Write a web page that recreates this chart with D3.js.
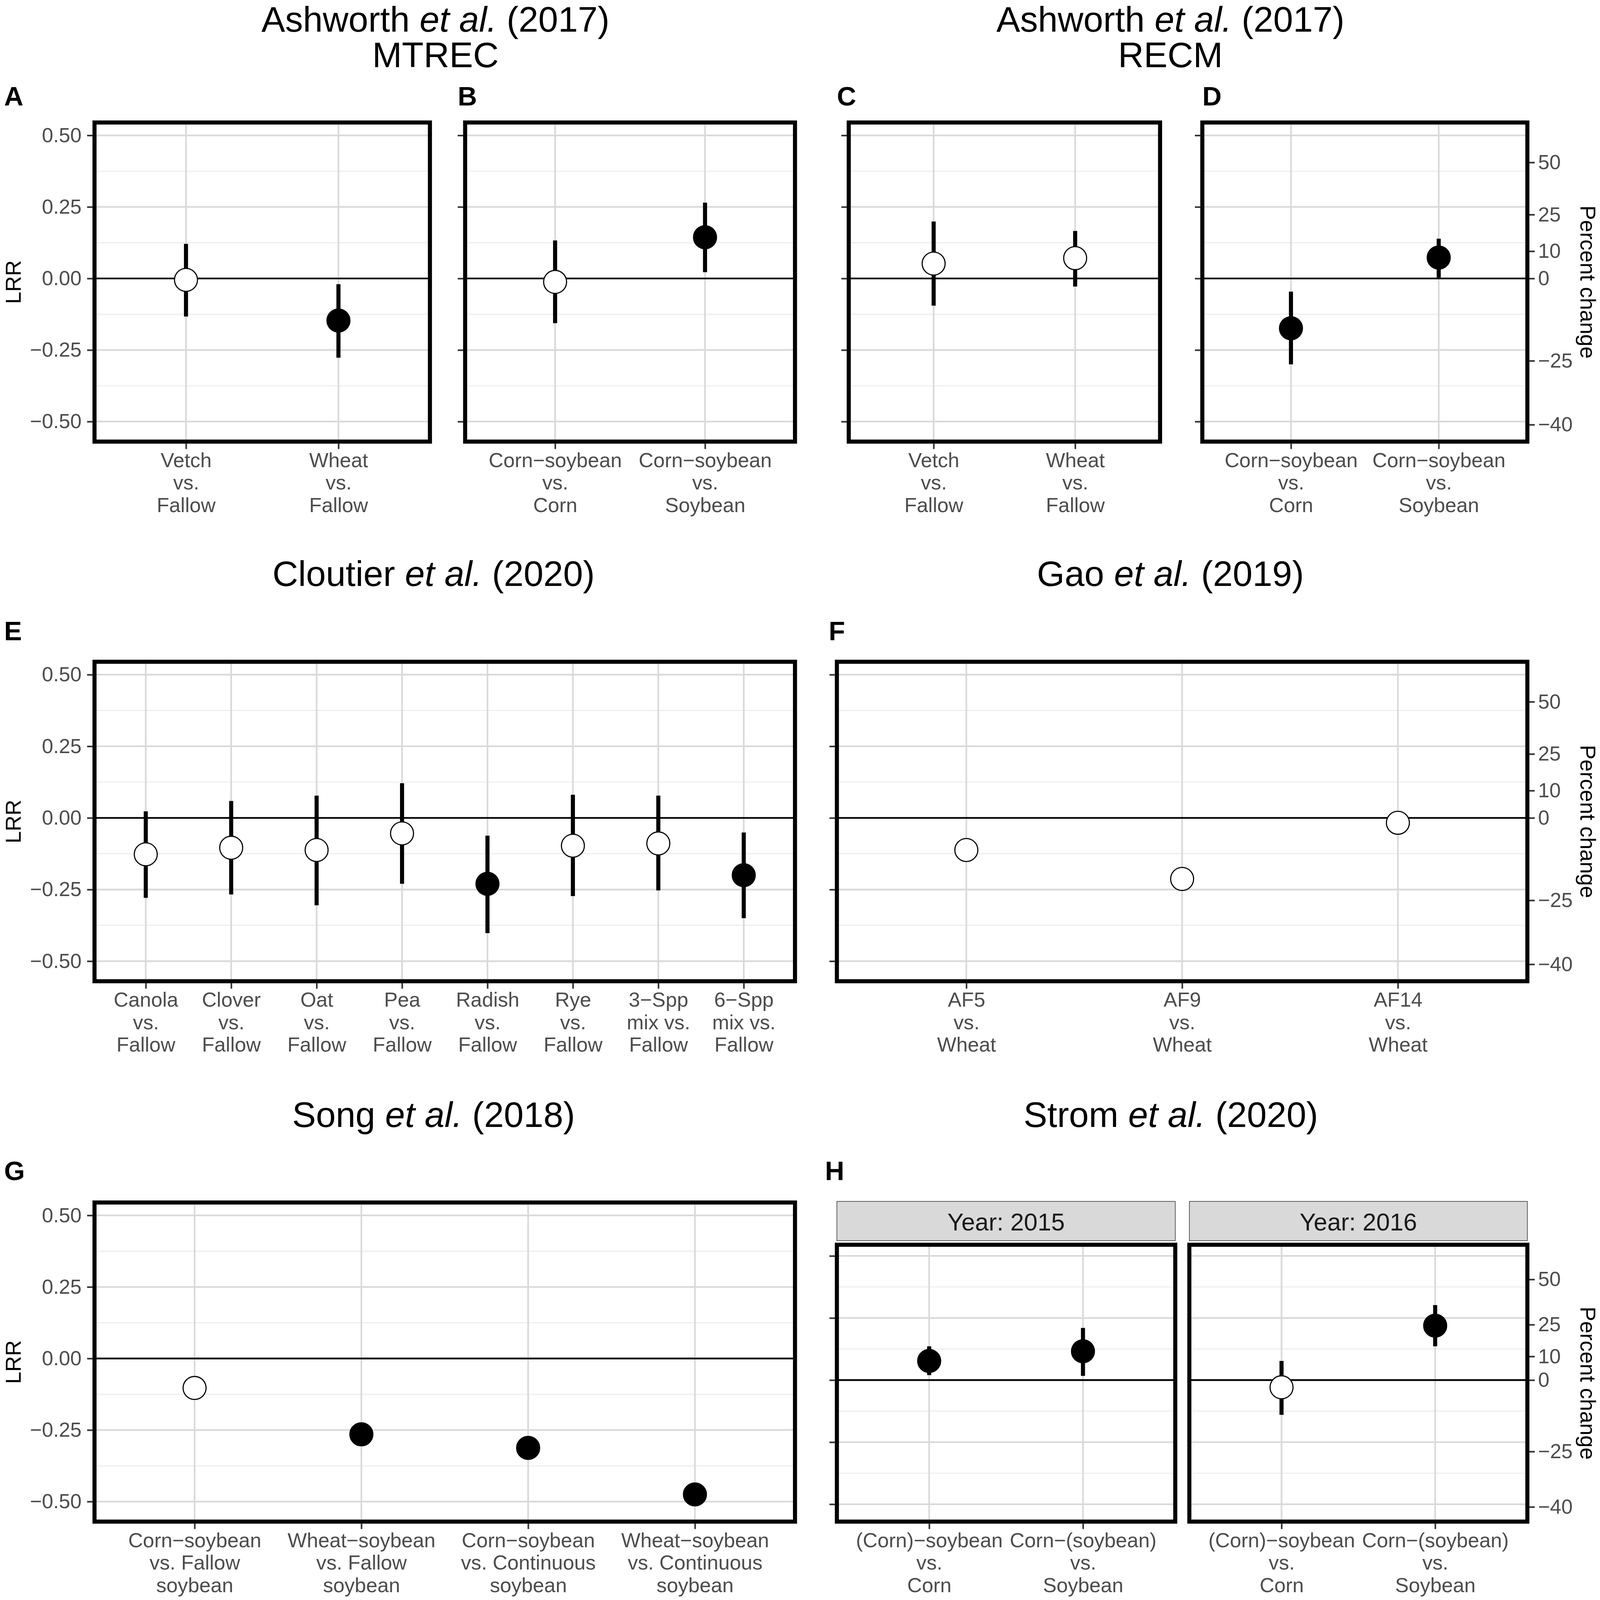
<!DOCTYPE html>
<html>
<head>
<meta charset="utf-8">
<script src="https://cdn.jsdelivr.net/npm/d3@7"></script>
<style>
  html, body { margin: 0; padding: 0; background: #fff; overflow: hidden; }
  #fig { display: block; width: 100vw; height: 100vh; }
  text { font-family: "Liberation Sans", Arial, sans-serif; }
</style>
</head>
<body>
<svg id="fig" viewBox="0 0 4317 4306" preserveAspectRatio="xMidYMid meet"></svg>
<script>
// values (LRR = log response ratio)
var catsA = ["Vetch\nvs.\nFallow", "Wheat\nvs.\nFallow"];
var estA = [-0.005, -0.147], loA = [-0.133, -0.277], hiA = [0.121, -0.020];
var sigA = [false, true];

var catsB = ["Corn\u2212soybean\nvs.\nCorn", "Corn\u2212soybean\nvs.\nSoybean"];
var estB = [-0.012, 0.144], loB = [-0.156, 0.022], hiB = [0.133, 0.265];
var sigB = [false, true];

var catsC = ["Vetch\nvs.\nFallow", "Wheat\nvs.\nFallow"];
var estC = [0.052, 0.071], loC = [-0.095, -0.028], hiC = [0.199, 0.166];
var sigC = [false, false];

var catsD = ["Corn\u2212soybean\nvs.\nCorn", "Corn\u2212soybean\nvs.\nSoybean"];
var estD = [-0.174, 0.073], loD = [-0.300, 0.003], hiD = [-0.046, 0.139];
var sigD = [true, true];

var catsE = ["Canola\nvs.\nFallow", "Clover\nvs.\nFallow", "Oat\nvs.\nFallow", "Pea\nvs.\nFallow",
             "Radish\nvs.\nFallow", "Rye\nvs.\nFallow", "3\u2212Spp\nmix vs.\nFallow", "6\u2212Spp\nmix vs.\nFallow"];
var estE = [-0.127, -0.104, -0.112, -0.054, -0.230, -0.097, -0.089, -0.200];
var loE = [-0.279, -0.267, -0.305, -0.230, -0.402, -0.273, -0.253, -0.350];
var hiE = [0.023, 0.059, 0.078, 0.121, -0.062, 0.081, 0.078, -0.051];
var sigE = [false, false, false, false, true, false, false, true];

var catsF = ["AF5\nvs.\nWheat", "AF9\nvs.\nWheat", "AF14\nvs.\nWheat"];
var estF = [-0.112, -0.213, -0.017];
var sigF = [false, false, false];

var catsG = ["Corn\u2212soybean\nvs. Fallow\nsoybean", "Wheat\u2212soybean\nvs. Fallow\nsoybean",
             "Corn\u2212soybean\nvs. Continuous\nsoybean", "Wheat\u2212soybean\nvs. Continuous\nsoybean"];
var estG = [-0.103, -0.265, -0.3125, -0.475];
var sigG = [false, true, true, true];

var catsH = ["(Corn)\u2212soybean\nvs.\nCorn", "Corn\u2212(soybean)\nvs.\nSoybean"];
var estH2015 = [0.077, 0.116], loH2015 = [0.020, 0.017], hiH2015 = [0.136, 0.210];
var sigH2015 = [true, true];
var estH2016 = [-0.029, 0.219], loH2016 = [-0.140, 0.136], hiH2016 = [0.077, 0.302];
var sigH2016 = [false, true];

var lrrTicks = [-0.5, -0.25, 0, 0.25, 0.5];
var lrrMinor = [-0.375, -0.125, 0.125, 0.375];
var pctTicks = [50, 25, 10, 0, -25, -40];
var lrrDomain = [-0.57, 0.545];

var svg = d3.select("#fig");
svg.append("rect").attr("width", 4317).attr("height", 4306).attr("fill", "#fff");

function styleAxis(a) {
  a.select(".domain").remove();
  a.selectAll(".tick line").attr("stroke", "#333").attr("stroke-width", 4.3);
  a.selectAll(".tick text").attr("fill", "#4d4d4d").attr("font-size", 55)
    .attr("font-family", "'Liberation Sans', Arial, sans-serif");
}

function panel(p) {
  var g = svg.append("g");
  var idx = d3.range(p.cats.length);
  var x = d3.scalePoint().domain(idx).range([p.x0, p.x1]).padding(0.6);
  var y = d3.scaleLinear().domain(lrrDomain).range([p.y1, p.y0]);

  // grid
  g.selectAll(null).data(lrrMinor).enter().append("line")
    .attr("x1", p.x0).attr("x2", p.x1).attr("y1", y).attr("y2", y)
    .attr("stroke", "#ebebeb").attr("stroke-width", 2.5);
  g.selectAll(null).data(lrrTicks).enter().append("line")
    .attr("x1", p.x0).attr("x2", p.x1).attr("y1", y).attr("y2", y)
    .attr("stroke", "#d9d9d9").attr("stroke-width", 4.5);
  g.selectAll(null).data(idx).enter().append("line")
    .attr("x1", x).attr("x2", x).attr("y1", p.y0).attr("y2", p.y1)
    .attr("stroke", "#d9d9d9").attr("stroke-width", 4.5);

  g.append("line").attr("x1", p.x0).attr("x2", p.x1)
    .attr("y1", y(0)).attr("y2", y(0))
    .attr("stroke", "#000").attr("stroke-width", 4.6);

  if (p.lo) {
    g.selectAll(null).data(idx).enter().append("line")
      .attr("x1", x).attr("x2", x)
      .attr("y1", function(i) { return y(p.lo[i]); })
      .attr("y2", function(i) { return y(p.hi[i]); })
      .attr("stroke", "#000").attr("stroke-width", 11);
  }

  g.selectAll(null).data(idx).enter().append("circle")
    .attr("cx", x).attr("cy", function(i) { return y(p.est[i]); })
    .attr("r", 31)
    .attr("fill", function(i) { return p.sig[i] ? "#000" : "#fff"; })
    .attr("stroke", "#000").attr("stroke-width", 3);

  g.append("rect").attr("x", p.x0).attr("y", p.y0)
    .attr("width", p.x1 - p.x0).attr("height", p.y1 - p.y0)
    .attr("fill", "none").attr("stroke", "#000").attr("stroke-width", 11);

  // axes
  var xa = g.append("g").attr("transform", "translate(0," + (p.y1 + 5) + ")")
    .call(d3.axisBottom(x).tickSize(15).tickFormat(""));
  styleAxis(xa);
  xa.selectAll(".tick").each(function(i) {
    var t = d3.select(this).append("text").attr("text-anchor", "middle")
      .attr("fill", "#4d4d4d").attr("font-size", 55);
    p.cats[i].split("\n").forEach(function(line, k) {
      t.append("tspan").attr("x", 0).attr("y", 64 + k * 60.5).text(line);
    });
  });

  if (p.left) {
    var ax = d3.axisLeft(y).tickValues(lrrTicks).tickSize(15).tickPadding(15)
      .tickFormat(p.left === "labels" ? d3.format(".2f") : "");
    styleAxis(g.append("g").attr("transform", "translate(" + (p.x0 - 5) + ",0)").call(ax));
  }
  if (p.left === "labels") {
    g.append("text").attr("transform", "translate(56," + ((p.y0 + p.y1) / 2) + ") rotate(-90)")
      .attr("text-anchor", "middle").attr("font-size", 59).text("LRR");
  }

  if (p.right) {
    var ra = d3.axisRight(y)
      .tickValues(pctTicks.map(function(v) { return Math.log(1 + v / 100); }))
      .tickSize(15).tickPadding(9)
      .tickFormat(function(v) { return d3.format("d")(Math.round((Math.exp(v) - 1) * 100)); });
    styleAxis(g.append("g").attr("transform", "translate(" + (p.x1 + 5) + ",0)").call(ra));
    g.append("text").attr("transform", "translate(4264," + ((p.y0 + p.y1) / 2) + ") rotate(90)")
      .attr("text-anchor", "middle").attr("font-size", 59).text("Percent change");
  }

  if (p.strip) {
    g.append("rect").attr("x", p.x0).attr("y", p.y0 - 117)
      .attr("width", p.x1 - p.x0).attr("height", 106)
      .attr("fill", "#d9d9d9").attr("stroke", "#333").attr("stroke-width", 1.6);
    g.append("text").attr("x", (p.x0 + p.x1) / 2).attr("y", p.y0 - 38)
      .attr("text-anchor", "middle")
      .attr("font-size", 66).attr("fill", "#1a1a1a").text(p.strip);
  }
}

function title(cx, y, author, year, sub) {
  var t = svg.append("text").attr("x", cx).attr("y", y)
    .attr("text-anchor", "middle").attr("font-size", 96).attr("fill", "#000");
  t.append("tspan").text(author + " ");
  t.append("tspan").attr("font-style", "italic").text("et al.");
  t.append("tspan").text(" (" + year + ")");
  if (sub) {
    t.append("tspan").attr("x", cx).attr("dy", 96).text(sub);
  }
}

function tag(x, y, s) {
  svg.append("text").attr("x", x).attr("y", y).attr("font-size", 72)
    .attr("font-weight", "bold").text(s);
}

title(1175, 80, "Ashworth", 2017, "MTREC");
title(3158, 80, "Ashworth", 2017, "RECM");
title(1170, 1575, "Cloutier", 2020);
title(3158, 1575, "Gao", 2019);
title(1170, 3035, "Song", 2018);
title(3159, 3035, "Strom", 2020);

tag(11, 279, "A"); tag(1235, 279, "B"); tag(2258, 279, "C"); tag(3244, 279, "D");
tag(11, 1722, "E"); tag(2236, 1722, "F");
tag(11, 3178, "G"); tag(2226, 3178, "H");

panel({ cats: catsA, est: estA, lo: loA, hi: hiA, sig: sigA, x0: 255, x1: 1160, y0: 325, y1: 1186, left: "labels" });
panel({ cats: catsB, est: estB, lo: loB, hi: hiB, sig: sigB, x0: 1255, x1: 2145, y0: 325, y1: 1186, left: "ticks" });
panel({ cats: catsC, est: estC, lo: loC, hi: hiC, sig: sigC, x0: 2290, x1: 3130, y0: 325, y1: 1186, left: "ticks" });
panel({ cats: catsD, est: estD, lo: loD, hi: hiD, sig: sigD, x0: 3244, x1: 4121, y0: 325, y1: 1186, left: "ticks", right: true });

panel({ cats: catsE, est: estE, lo: loE, hi: hiE, sig: sigE, x0: 255, x1: 2145, y0: 1780, y1: 2642, left: "labels" });
panel({ cats: catsF, est: estF, sig: sigF, x0: 2258, x1: 4121, y0: 1780, y1: 2642, left: "ticks", right: true });

panel({ cats: catsG, est: estG, sig: sigG, x0: 255, x1: 2145, y0: 3239, y1: 4100, left: "labels" });
panel({ cats: catsH, est: estH2015, lo: loH2015, hi: hiH2015, sig: sigH2015, x0: 2258, x1: 3171, y0: 3353, y1: 4100, left: "ticks", strip: "Year: 2015" });
panel({ cats: catsH, est: estH2016, lo: loH2016, hi: hiH2016, sig: sigH2016, x0: 3209, x1: 4121, y0: 3353, y1: 4100, right: true, strip: "Year: 2016" });
</script>
</body>
</html>
